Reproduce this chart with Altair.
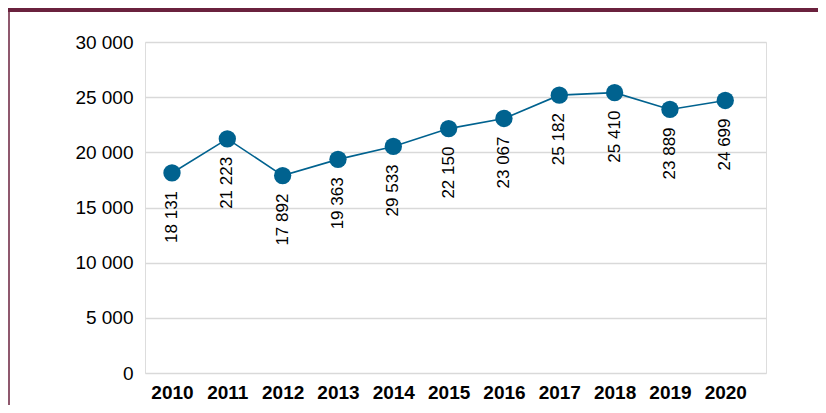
import altair as alt
import pandas as pd

years = [2010, 2011, 2012, 2013, 2014, 2015, 2016, 2017, 2018, 2019, 2020]
values = [18131, 21223, 17892, 19363, 20533, 22150, 23067, 25182, 25410, 23889, 24699]
labels = ["18 131", "21 223", "17 892", "19 363", "29 533", "22 150", "23 067",
          "25 182", "25 410", "23 889", "24 699"]

df = pd.DataFrame({"year": years, "value": values, "label": labels})

FONT = "Liberation Sans Narrow, Arial Narrow, Liberation Sans"
BLUE = "#00628f"
MAROON = "#6a213d"

W, H = 621, 331
PL, PT, PR, PB = 137, 34, 52, 32

x = alt.X("year:Q",
          scale=alt.Scale(domain=[2009.512, 2020.736], nice=False, zero=False),
          axis=alt.Axis(values=years, format="d", title=None, grid=False,
                        domain=False, ticks=False, labelPadding=10,
                        labelFontSize=19, labelFontWeight="bold",
                        labelColor="#000000", labelFont=FONT))
y = alt.Y("value:Q",
          scale=alt.Scale(domain=[0, 30000], nice=False),
          axis=alt.Axis(values=[0, 5000, 10000, 15000, 20000, 25000, 30000],
                        labelExpr="replace(format(datum.value, ','), ',', ' ')",
                        title=None, domain=False, ticks=False, labelPadding=12,
                        labelFontSize=19, labelColor="#000000", labelFont=FONT,
                        gridColor="#d9d9d9", gridWidth=1.5))

base = alt.Chart(df)

line = base.mark_line(color=BLUE, strokeWidth=1.6).encode(x=x, y=y)
pts = base.mark_circle(color=BLUE, size=300, opacity=1).encode(x=x, y=y)
txt = base.mark_text(angle=270, align="center", baseline="middle", dx=-44,
                     fontSize=17, font=FONT, color="#000000").encode(
    x=x, y=y, text="label:N")

band = alt.Chart(pd.DataFrame({"a": [0]})).mark_rect(color=MAROON).encode(
    x=alt.value(-PL), x2=alt.value(W + PR), y=alt.value(-PT), y2=alt.value(-PT + 4))
border = alt.Chart(pd.DataFrame({"a": [0]})).mark_rule(color=MAROON, strokeWidth=1.5).encode(
    x=alt.value(-PL + 1), y=alt.value(-PT), y2=alt.value(H + PB))

chart = alt.layer(band, border, line, pts, txt).properties(
    width=W, height=H,
    autosize=alt.AutoSizeParams(type="none"),
    padding={"left": PL, "top": PT, "right": PR, "bottom": PB},
).configure_view(stroke=None).configure(background="#ffffff")

chart.save("out.html", embed_options={"renderer": "svg", "actions": False})
